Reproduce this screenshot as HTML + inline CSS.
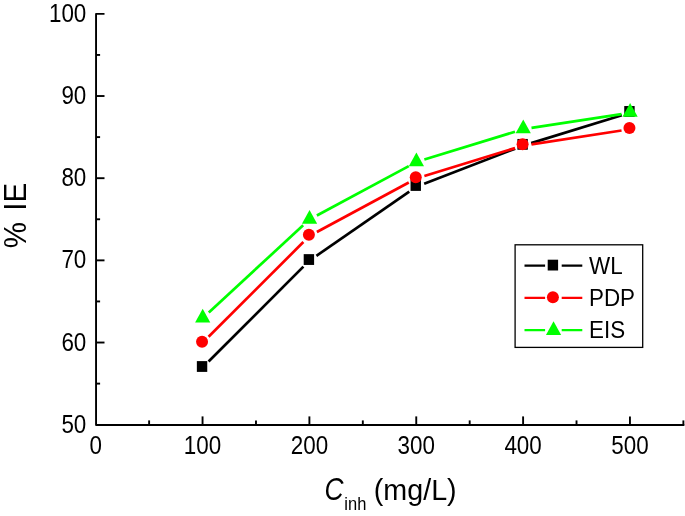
<!DOCTYPE html>
<html><head><meta charset="utf-8"><title>chart</title>
<style>html,body{margin:0;padding:0;background:#fff}body{width:685px;height:516px;overflow:hidden}svg{display:block;will-change:transform}svg,svg text{font-family:"Liberation Sans",sans-serif}</style></head>
<body>
<svg width="685" height="516" viewBox="0 0 685 516">
<rect width="685" height="516" fill="#fff"/>
<g stroke="#000" stroke-width="1.9" fill="none" stroke-linejoin="round">
<path d="M104.50 13.85H96.05V425.00H684.38"/>
<path d="M96.10 383.62h4"/>
<path d="M96.10 342.53h8.4"/>
<path d="M96.10 301.44h4"/>
<path d="M96.10 260.36h8.4"/>
<path d="M96.10 219.28h4"/>
<path d="M96.10 178.19h8.4"/>
<path d="M96.10 137.11h4"/>
<path d="M96.10 96.02h8.4"/>
<path d="M96.10 54.94h4"/>
<path d="M149.12 424.70v-4.3"/>
<path d="M202.55 424.70v-8.3"/>
<path d="M255.98 424.70v-4.3"/>
<path d="M309.40 424.70v-8.3"/>
<path d="M362.82 424.70v-4.3"/>
<path d="M416.25 424.70v-8.3"/>
<path d="M469.68 424.70v-4.3"/>
<path d="M523.10 424.70v-8.3"/>
<path d="M576.52 424.70v-4.3"/>
<path d="M629.95 424.70v-8.3"/>
<path d="M683.38 424.70v-4.3"/>
</g>
<g fill="#000">
<text transform="translate(86.30 432.80) scale(1 1.11)" font-size="22.4" text-anchor="end">50</text>
<text transform="translate(86.30 350.63) scale(1 1.11)" font-size="22.4" text-anchor="end">60</text>
<text transform="translate(86.30 268.46) scale(1 1.11)" font-size="22.4" text-anchor="end">70</text>
<text transform="translate(86.30 186.29) scale(1 1.11)" font-size="22.4" text-anchor="end">80</text>
<text transform="translate(86.30 104.12) scale(1 1.11)" font-size="22.4" text-anchor="end">90</text>
<text transform="translate(86.30 21.95) scale(1 1.11)" font-size="22.4" text-anchor="end">100</text>
<text transform="translate(95.70 453.70) scale(1 1.11)" font-size="22.4" text-anchor="middle">0</text>
<text transform="translate(202.55 453.70) scale(1 1.11)" font-size="22.4" text-anchor="middle">100</text>
<text transform="translate(309.40 453.70) scale(1 1.11)" font-size="22.4" text-anchor="middle">200</text>
<text transform="translate(416.25 453.70) scale(1 1.11)" font-size="22.4" text-anchor="middle">300</text>
<text transform="translate(523.10 453.70) scale(1 1.11)" font-size="22.4" text-anchor="middle">400</text>
<text transform="translate(629.95 453.70) scale(1 1.11)" font-size="22.4" text-anchor="middle">500</text>
</g>
<line x1="208.56" y1="361.47" x2="303.39" y2="266.67" stroke="#000" stroke-width="2.7"/>
<line x1="316.39" y1="255.82" x2="409.26" y2="191.54" stroke="#000" stroke-width="2.7"/>
<line x1="424.18" y1="183.66" x2="515.17" y2="148.67" stroke="#000" stroke-width="2.7"/>
<line x1="531.22" y1="143.12" x2="621.83" y2="115.25" stroke="#000" stroke-width="2.7"/>
<rect x="196.85" y="361.10" width="10.4" height="10.8" fill="#000"/>
<rect x="303.70" y="254.14" width="10.4" height="10.8" fill="#000"/>
<rect x="410.55" y="180.09" width="10.4" height="10.8" fill="#000"/>
<rect x="517.40" y="138.95" width="10.4" height="10.8" fill="#000"/>
<rect x="624.25" y="106.04" width="10.4" height="10.8" fill="#000"/>
<line x1="208.56" y1="336.82" x2="303.39" y2="242.02" stroke="#f00" stroke-width="2.7"/>
<line x1="316.88" y1="231.98" x2="408.77" y2="182.52" stroke="#f00" stroke-width="2.7"/>
<line x1="424.37" y1="175.99" x2="514.98" y2="148.12" stroke="#f00" stroke-width="2.7"/>
<line x1="531.50" y1="144.33" x2="621.55" y2="130.48" stroke="#f00" stroke-width="2.7"/>
<circle cx="202.05" cy="341.82" r="6.0" fill="#f00"/>
<circle cx="308.90" cy="234.86" r="6.0" fill="#f00"/>
<circle cx="415.75" cy="177.26" r="6.0" fill="#f00"/>
<circle cx="522.60" cy="144.35" r="6.0" fill="#f00"/>
<circle cx="629.45" cy="127.89" r="6.0" fill="#f00"/>
<line x1="208.80" y1="312.41" x2="303.15" y2="225.34" stroke="#0f0" stroke-width="2.7"/>
<line x1="316.88" y1="215.55" x2="408.77" y2="166.09" stroke="#0f0" stroke-width="2.7"/>
<line x1="424.37" y1="159.56" x2="514.98" y2="131.69" stroke="#0f0" stroke-width="2.7"/>
<line x1="531.50" y1="127.90" x2="621.55" y2="114.05" stroke="#0f0" stroke-width="2.7"/>
<path d="M202.70 308.74L210.30 322.54H195.10Z" fill="#0f0"/>
<path d="M309.55 210.00L317.15 223.80H301.95Z" fill="#0f0"/>
<path d="M416.40 152.40L424.00 166.20H408.80Z" fill="#0f0"/>
<path d="M523.25 119.49L530.85 133.29H515.65Z" fill="#0f0"/>
<path d="M630.10 103.04L637.70 116.84H622.50Z" fill="#0f0"/>
<rect x="515.1" y="244.8" width="127.6" height="102.6" fill="#fff" stroke="#000" stroke-width="1.3"/>
<path d="M524.5 265.7H545.10M561.70 265.7H582.3" stroke="#000" stroke-width="2.2" fill="none"/>
<rect x="547.70" y="259.70" width="10.4" height="10.8" fill="#000"/>
<text transform="translate(589.00 273.70) scale(1 1.07)" font-size="22.4" text-anchor="start">WL</text>
<path d="M524.5 297.9H545.10M561.70 297.9H582.3" stroke="#f00" stroke-width="2.2" fill="none"/>
<circle cx="552.90" cy="297.30" r="6.0" fill="#f00"/>
<text transform="translate(589.00 305.90) scale(1 1.07)" font-size="22.4" text-anchor="start">PDP</text>
<path d="M524.5 330.2H545.10M561.70 330.2H582.3" stroke="#0f0" stroke-width="2.2" fill="none"/>
<path d="M553.55 321.20L561.15 335.00H545.95Z" fill="#0f0"/>
<text transform="translate(589.00 338.20) scale(1 1.07)" font-size="22.4" text-anchor="start">EIS</text>
<text transform="translate(25.6 248.2) rotate(-90) scale(1 1.06)" font-size="29.5" word-spacing="3">% IE</text>
<text transform="translate(324.6 500) scale(0.91 1.05)" font-size="29" font-style="italic">C</text>
<text transform="translate(344.30 509.70) scale(1 1.09)" font-size="16.5" text-anchor="start">inh</text>
<text transform="translate(373.75 500.00) scale(1 1.03)" font-size="28.7" text-anchor="start">(mg/L)</text>
</svg>
</body></html>
